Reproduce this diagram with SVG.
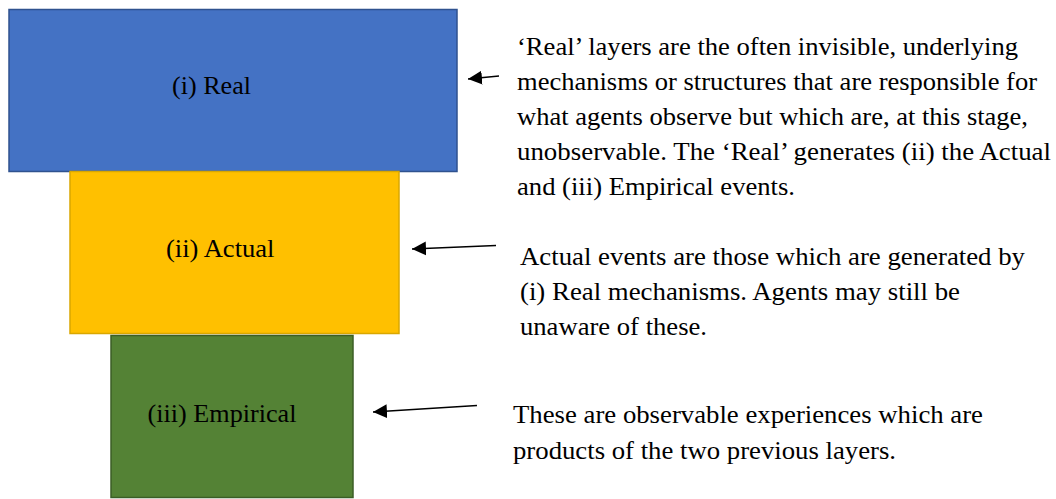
<svg xmlns="http://www.w3.org/2000/svg" width="1056" height="499" viewBox="0 0 1056 499">
<style>
  .t { font-family: "Liberation Serif", "Times New Roman", serif; font-size: 26px; fill: #000; }
  .lbl { font-family: "Liberation Serif", "Times New Roman", serif; font-size: 26px; fill: #000; }
  .conn { stroke: #000; stroke-width: 1.5; fill: none; marker-end: url(#ah); }
</style>
<defs>
  <marker id="ah" markerUnits="userSpaceOnUse" markerWidth="16" markerHeight="16" viewBox="0 0 16 16" refX="14" refY="8" orient="auto">
    <path d="M0,1 L14,8 L0,15 Z" fill="#000"/>
  </marker>
</defs>
<rect x="0" y="0" width="1056" height="499" fill="#fff"/>
<g id="real">
  <rect x="9" y="9.5" width="448" height="162" fill="#4472C4" stroke="#2F528F" stroke-width="1.5"/>
  <text class="lbl" x="172" y="94" textLength="79" lengthAdjust="spacingAndGlyphs">(i) Real</text>
</g>
<g id="actual">
  <rect x="70" y="171.5" width="329" height="162" fill="#FFC000" stroke="#D9A700" stroke-width="1.5"/>
  <text class="lbl" x="166" y="257" textLength="108.5" lengthAdjust="spacingAndGlyphs">(ii) Actual</text>
</g>
<g id="empirical">
  <rect x="111" y="335.5" width="242" height="162" fill="#548235" stroke="#3B5E26" stroke-width="1.5"/>
  <text class="lbl" x="147.5" y="422" textLength="149" lengthAdjust="spacingAndGlyphs">(iii) Empirical</text>
</g>
<g id="desc-real">
  <text class="t" x="517" y="55" textLength="501" lengthAdjust="spacingAndGlyphs">‘Real’ layers are the often invisible, underlying</text>
  <text class="t" x="517" y="90" textLength="520" lengthAdjust="spacingAndGlyphs">mechanisms or structures that are responsible for</text>
  <text class="t" x="517" y="125" textLength="511" lengthAdjust="spacingAndGlyphs">what agents observe but which are, at this stage,</text>
  <text class="t" x="517" y="160" textLength="534" lengthAdjust="spacingAndGlyphs">unobservable. The ‘Real’ generates (ii) the Actual</text>
  <text class="t" x="517" y="195" textLength="278" lengthAdjust="spacingAndGlyphs">and (iii) Empirical events.</text>
</g>
<g id="desc-actual">
  <text class="t" x="520" y="265" textLength="505" lengthAdjust="spacingAndGlyphs">Actual events are those which are generated by</text>
  <text class="t" x="520" y="300" textLength="440" lengthAdjust="spacingAndGlyphs">(i) Real mechanisms. Agents may still be</text>
  <text class="t" x="520" y="335" textLength="187" lengthAdjust="spacingAndGlyphs">unaware of these.</text>
</g>
<g id="desc-empirical">
  <text class="t" x="513" y="423" textLength="470" lengthAdjust="spacingAndGlyphs">These are observable experiences which are</text>
  <text class="t" x="513" y="459" textLength="383" lengthAdjust="spacingAndGlyphs">products of the two previous layers.</text>
</g>
<g id="connectors">
  <line class="conn" x1="499" y1="76" x2="468" y2="79"/>
  <line class="conn" x1="496" y1="245.5" x2="412" y2="249"/>
  <line class="conn" x1="477" y1="405.5" x2="373" y2="412"/>
</g>
</svg>
